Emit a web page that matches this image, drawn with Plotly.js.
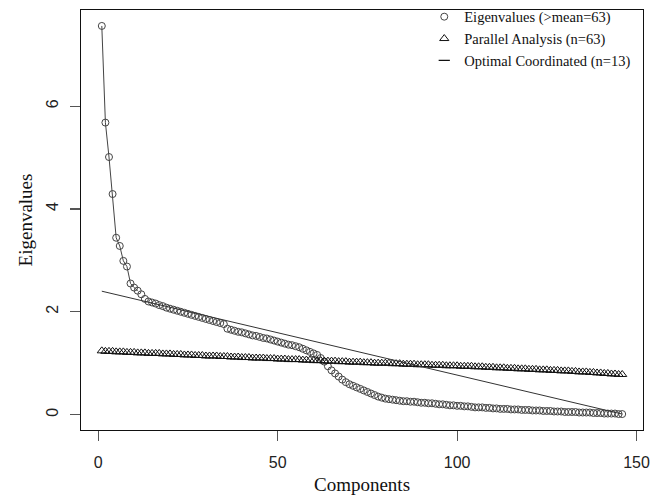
<!DOCTYPE html>
<html><head><meta charset="utf-8">
<script src="https://cdn.plot.ly/plotly-3.0.1.min.js"></script>
<style>html,body{margin:0;padding:0;background:#fff}</style>
</head><body><div id="chart" style="width:660px;height:498px"></div>
<script>
// Eigenvalues of the 146 components
const eigenvalues = [
  7.56,5.68,5.01,4.29,3.44,3.28,2.99,2.88,2.55,2.47,
  2.41,2.34,2.25,2.20,2.18,2.16,2.13,2.11,2.08,2.06,
  2.04,2.02,2.00,1.98,1.96,1.94,1.92,1.90,1.88,1.86,
  1.84,1.82,1.80,1.78,1.76,1.67,1.65,1.63,1.61,1.60,
  1.58,1.56,1.54,1.53,1.51,1.49,1.48,1.46,1.44,1.42,
  1.40,1.38,1.36,1.35,1.33,1.31,1.28,1.25,1.22,1.19,
  1.16,1.10,1.03,0.94,0.86,0.80,0.74,0.68,0.63,0.59,
  0.56,0.53,0.50,0.47,0.44,0.41,0.38,0.35,0.33,0.31,
  0.30,0.29,0.28,0.27,0.26,0.26,0.25,0.25,0.24,0.23,
  0.23,0.22,0.22,0.21,0.20,0.20,0.19,0.18,0.18,0.17,
  0.17,0.16,0.16,0.15,0.14,0.14,0.14,0.13,0.13,0.12,
  0.12,0.11,0.11,0.11,0.10,0.10,0.10,0.09,0.09,0.09,
  0.08,0.08,0.08,0.07,0.07,0.07,0.06,0.06,0.06,0.05,
  0.05,0.05,0.05,0.04,0.04,0.04,0.04,0.03,0.03,0.03,
  0.02,0.02,0.02,0.02,0.01,0.01
];
// Parallel analysis eigenvalues
const parallel = [
  1.24,1.23,1.23,1.23,1.22,1.22,1.22,1.21,1.21,1.21,
  1.20,1.20,1.20,1.19,1.19,1.19,1.19,1.18,1.18,1.18,
  1.17,1.17,1.17,1.16,1.16,1.16,1.15,1.15,1.15,1.14,
  1.14,1.14,1.14,1.13,1.13,1.13,1.12,1.12,1.12,1.11,
  1.11,1.11,1.10,1.10,1.10,1.10,1.09,1.09,1.09,1.08,
  1.08,1.08,1.07,1.07,1.07,1.07,1.06,1.06,1.06,1.05,
  1.05,1.05,1.04,1.04,1.04,1.04,1.03,1.03,1.03,1.02,
  1.02,1.02,1.02,1.01,1.01,1.01,1.00,1.00,1.00,1.00,
  1.00,0.99,0.99,0.99,0.98,0.98,0.98,0.98,0.97,0.97,
  0.97,0.97,0.96,0.96,0.96,0.96,0.95,0.95,0.95,0.95,
  0.94,0.94,0.94,0.94,0.93,0.93,0.93,0.92,0.92,0.92,
  0.91,0.91,0.91,0.90,0.90,0.90,0.89,0.89,0.89,0.88,
  0.88,0.88,0.87,0.87,0.87,0.86,0.86,0.86,0.85,0.85,
  0.85,0.84,0.84,0.83,0.83,0.83,0.82,0.82,0.81,0.81,
  0.80,0.80,0.79,0.79,0.78,0.78
];
// Optimal coordinates line end points
const ocX = [1, 146];
const ocY = [2.40, 0.01];
// Number of leading components joined by visible line segments
const linkedCount = 11;
const xTicks = [0, 50, 100, 150];
const yTicks = [0, 2, 4, 6];
const legendNames = ['Eigenvalues (>mean=63)', 'Parallel Analysis (n=63)', 'Optimal Coordinated (n=13)'];

const comps = eigenvalues.map((_, i) => i + 1);
const serif = 'Liberation Serif, Times New Roman, serif';
const sans = 'Liberation Sans, Arial, sans-serif';

const traces = [
  { x: comps.slice(0, linkedCount), y: eigenvalues.slice(0, linkedCount), mode: 'lines',
    line: { color: '#444', width: 1 }, showlegend: false, hoverinfo: 'skip' },
  { x: comps, y: eigenvalues, mode: 'markers', name: legendNames[0],
    marker: { symbol: 'circle-open', size: 7, color: '#444', line: { width: 1, color: '#444' } } },
  { x: comps, y: parallel, mode: 'markers', name: legendNames[1],
    marker: { symbol: 'triangle-up-open', size: 8, color: '#111', line: { width: 1, color: '#111' } } },
  { x: ocX, y: ocY, mode: 'lines', showlegend: false,
    line: { color: '#333', width: 1 } },
  { x: [null], y: [null], mode: 'markers', name: legendNames[2],
    marker: { symbol: 'line-ew-open', size: 8, color: '#111', line: { width: 1.2, color: '#111' } } }
];

const axisCommon = {
  showgrid: false, zeroline: false, showline: true, mirror: true,
  linecolor: '#111', linewidth: 1.3, ticks: 'outside', ticklen: 10,
  tickcolor: '#555', tickwidth: 1.2,
  tickfont: { family: sans, size: 16, color: '#222' }
};

const layout = {
  width: 660, height: 498,
  margin: { l: 81, r: 17, t: 10, b: 68, autoexpand: false },
  paper_bgcolor: '#fff', plot_bgcolor: '#fff',
  showlegend: true,
  legend: { x: 0.988, xanchor: 'right', y: 1.022, yanchor: 'top', bgcolor: 'rgba(0,0,0,0)',
    font: { family: serif, size: 14.5, color: '#111' }, itemwidth: 30, tracegroupgap: 0 },
  xaxis: Object.assign({}, axisCommon, {
    range: [-4.8, 151.8], tickvals: xTicks, ticktext: xTicks.map(String),
    ticklabelstandoff: 7,
    title: { text: 'Components', font: { family: serif, size: 19, color: '#111' }, standoff: 8 }
  }),
  yaxis: Object.assign({}, axisCommon, {
    range: [-0.3, 7.87], tickvals: yTicks, ticktext: yTicks.map(String), tickangle: -90,
    ticklabelstandoff: 5,
    title: { text: 'Eigenvalues', font: { family: serif, size: 19, color: '#111' }, standoff: 6 }
  })
};

Plotly.newPlot('chart', traces, layout, { displayModeBar: false, staticPlot: true });
</script>
</body></html>
